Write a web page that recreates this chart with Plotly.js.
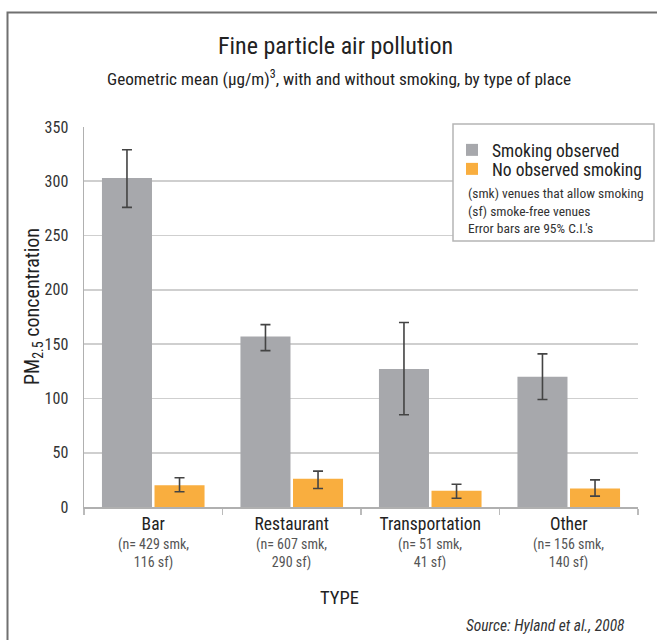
<!DOCTYPE html>
<html>
<head>
<meta charset="utf-8">
<script src="https://cdn.plot.ly/plotly-3.0.1.min.js"></script>
<style>
html,body{margin:0;padding:0;background:#fff;}
#chart{width:657px;height:640px;}
</style>
</head>
<body>
<div id="chart"></div>
<script>
// ---- data ----
var categories = ['Bar', 'Restaurant', 'Transportation', 'Other'];
var nSmkLabels = ['(n= 429 smk,', '(n= 607 smk,', '(n= 51 smk,', '(n= 156 smk,'];
var nSfLabels = ['116 sf)', '290 sf)', '41 sf)', '140 sf)'];
var smoking = [303, 157, 127, 120];
var smokingHi = [329, 168, 170, 141];
var smokingLo = [276, 144, 85, 99];
var noSmoking = [20, 26, 15, 17];
var noSmokingHi = [27, 33, 21, 25];
var noSmokingLo = [14, 17, 8, 10];
var yTicks = [0, 50, 100, 150, 200, 250, 300, 350];
var notes = ['(smk) venues that allow smoking', '(sf) smoke-free venues', "Error bars are 95% C.I.'s"];

// ---- geometry helpers (pixel -> paper) ----
var W = 657, H = 640;
var L = 84, R = 638, T = 127, B = 507;
function px(x) { return (x - L) / (R - L); }
function py(y) { return (B - y) / (B - T); }

var FONT = '"Roboto Condensed", "DejaVu Sans Condensed", "Liberation Sans", sans-serif';
var GRAY = '#a7a8ac', ORANGE = '#f9ae3f';

function diff(a, b) { return a.map(function (v, i) { return v - b[i]; }); }

var errStyle = {color: '#444', thickness: 1.6, width: 5};

var traces = [
  {
    type: 'bar', name: 'Smoking observed', x: categories, y: smoking, legend: 'legend',
    marker: {color: GRAY, line: {width: 0}},
    error_y: Object.assign({type: 'data', symmetric: false,
      array: diff(smokingHi, smoking), arrayminus: diff(smoking, smokingLo)}, errStyle),
    hoverinfo: 'x+y'
  },
  {
    type: 'bar', name: 'No observed smoking', x: categories, y: noSmoking, legend: 'legend2',
    marker: {color: ORANGE, line: {width: 0}},
    error_y: Object.assign({type: 'data', symmetric: false,
      array: diff(noSmokingHi, noSmoking), arrayminus: diff(noSmoking, noSmokingLo)}, errStyle),
    hoverinfo: 'x+y'
  }
];

var annotations = [
  {text: 'Fine particle air pollution', x: px(335), y: py(46), xref: 'paper', yref: 'paper',
   showarrow: false, xanchor: 'center', yanchor: 'middle', font: {family: FONT, size: 24, color: '#222'}},
  {text: 'Geometric mean (µg/m)<sup>3</sup>, with and without smoking, by type of place', x: px(339), y: py(78),
   xref: 'paper', yref: 'paper', showarrow: false, xanchor: 'center', yanchor: 'middle',
   font: {family: FONT, size: 17.2, color: '#222'}},
  {text: 'PM<sub>2.5</sub> concentration', x: px(33), y: py(307), xref: 'paper', yref: 'paper',
   showarrow: false, textangle: -90, xanchor: 'center', yanchor: 'middle',
   font: {family: FONT, size: 20, color: '#222'}},
  {text: 'TYPE', x: px(339), y: py(598), xref: 'paper', yref: 'paper', showarrow: false,
   xanchor: 'center', yanchor: 'middle', font: {family: FONT, size: 18.5, color: '#222'}},
  {text: '<i>Source: Hyland et al., 2008</i>', x: px(627), y: py(626), xref: 'paper', yref: 'paper',
   showarrow: false, xanchor: 'right', yanchor: 'middle', font: {family: FONT, size: 15.5, color: '#333'}},
  {text: notes.join('<br>'), x: px(466), y: py(210), xref: 'paper', yref: 'paper', showarrow: false,
   xanchor: 'left', yanchor: 'middle', align: 'left', font: {family: FONT, size: 13.5, color: '#333'}}
];
categories.forEach(function (c, i) {
  annotations.push({text: nSmkLabels[i] + '<br>' + nSfLabels[i], x: c, y: py(553), xref: 'x', yref: 'paper',
    showarrow: false, xanchor: 'center', yanchor: 'middle', align: 'center',
    font: {family: FONT, size: 14, color: '#555'}});
});

var shapes = [
  // outer frame
  {type: 'rect', xref: 'paper', yref: 'paper', x0: px(7.5), x1: px(665), y0: py(648), y1: py(12.5),
   line: {color: '#707070', width: 2}, fillcolor: 'rgba(0,0,0,0)', layer: 'below'},
  // legend box
  {type: 'rect', xref: 'paper', yref: 'paper', x0: px(453), x1: px(654), y0: py(241), y1: py(124),
   line: {color: '#b5b5b5', width: 1.5}, fillcolor: '#ffffff', layer: 'above'}
];

var legendBase = {xanchor: 'left', yanchor: 'middle', bgcolor: 'rgba(0,0,0,0)', borderwidth: 0,
  font: {family: FONT, size: 17.5, color: '#222'}, itemwidth: 30};

var layout = {
  width: W, height: H,
  margin: {l: L, r: W - R, t: T, b: H - B, pad: 0, autoexpand: false},
  paper_bgcolor: '#fff', plot_bgcolor: '#fff',
  font: {family: FONT, color: '#222'},
  showlegend: true,
  legend: Object.assign({}, legendBase, {x: px(452), y: py(150)}),
  legend2: Object.assign({}, legendBase, {x: px(452), y: py(169)}),
  barmode: 'group', bargap: 0.241, bargroupgap: 0.048,
  xaxis: {
    type: 'category', tickson: 'boundaries', ticks: 'outside', ticklen: 6, tickcolor: '#bbb', tickwidth: 1.5,
    showline: true, linecolor: '#b0b0b0', linewidth: 2, showgrid: false, zeroline: false,
    tickfont: {family: FONT, size: 17.5, color: '#222'}, fixedrange: true
  },
  yaxis: {
    range: [0, 350], tickvals: yTicks, ticks: '', showline: true, linecolor: '#b0b0b0', linewidth: 1.5,
    showgrid: true, gridcolor: '#cfcfcf', gridwidth: 1.6, zeroline: false, ticklabelstandoff: 11,
    tickfont: {family: FONT, size: 16, color: '#333'}, fixedrange: true
  },
  annotations: annotations,
  shapes: shapes
};

Plotly.newPlot('chart', traces, layout, {displayModeBar: false, staticPlot: true});
</script>
</body>
</html>
